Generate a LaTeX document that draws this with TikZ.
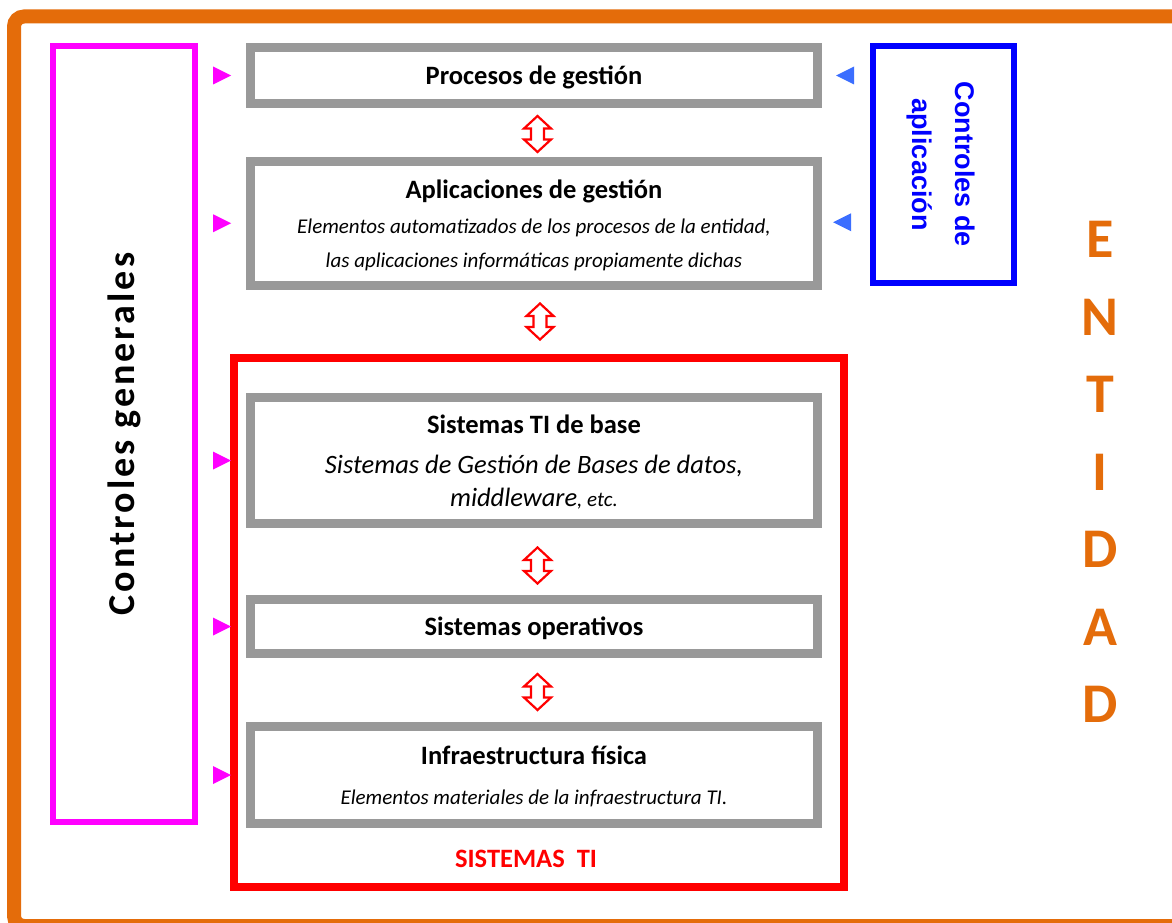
\documentclass[tikz,border=0pt]{standalone}
\usepackage{fontspec}
\setmainfont{Carlito}
\newfontfamily\bluefont{Liberation Sans}
\newfontfamily\spacedfont{Carlito}[LetterSpace=8]
\usetikzlibrary{calc}
\definecolor{orangeE}{RGB}{228,108,10}
\definecolor{grayB}{RGB}{153,153,153}
\definecolor{triblue}{RGB}{59,110,255}
\definecolor{magentaC}{RGB}{255,0,255}
\begin{document}
\begin{tikzpicture}[x=1pt,y=-1pt,
  graybox/.style={draw=grayB, line width=9pt, fill=white, minimum width=567pt,
    inner sep=0pt, outer sep=0pt, align=center, text depth=0pt},
  titlefont/.style={font=\fontsize{26.5}{34}\selectfont\bfseries},
  rtri/.pic={\fill[magentaC] (-9,-9) -- (9,0) -- (-9,9) -- cycle;},
  ltri/.pic={\fill[triblue] (9,-9) -- (-9,0) -- (9,9) -- cycle;},
  dblarrow/.pic={\draw[red, line width=2.2pt, fill=white, line join=miter]
     (0,-18) -- (13.5,-5.5) -- (6.5,-5.5) -- (6.5,5.5) -- (13.5,5.5) -- (0,18)
     -- (-13.5,5.5) -- (-6.5,5.5) -- (-6.5,-5.5) -- (-13.5,-5.5) -- cycle;}
]
\useasboundingbox (0,0) rectangle (1172,923);
\clip (0,0) rectangle (1172,923);
\fill[white] (0,0) rectangle (1172,923);
% entity frame
\draw[orangeE, line width=14pt, rounded corners=10pt] (14,16.5) rectangle (1190,926);
\node[text=orangeE, font=\fontsize{56}{77.5}\selectfont\bfseries, align=center, inner sep=0pt]
  (ent) at (1100,472) {E\\N\\T\\I\\D\\A\\D};

% general controls
\node[draw=magentaC, line width=6pt, rotate=90, minimum width=776pt, minimum height=142pt,
  inner sep=0pt, outer sep=0pt, font=\spacedfont\bfseries\fontsize{38}{38}\selectfont]
  (cg) at (124,434) {Controles generales};

% application controls
\node[draw=blue, line width=6pt, rotate=-90, minimum width=237pt, minimum height=141pt,
  inner sep=0pt, outer sep=0pt, text=blue, align=center, text depth=-1pt,
  font=\bluefont\bfseries\fontsize{27}{43}\selectfont]
  (ca) at (943.5,164.5) {Controles de\\aplicación};

% IT systems
\node[draw=red, line width=8pt, minimum width=610pt, minimum height=529pt,
  inner sep=0pt, outer sep=0pt] (ti) at (539,622.5) {};
\node[text=red, font=\fontsize{26.5}{30}\selectfont\bfseries, inner sep=0pt]
  (tilabel) at (526,859) {SISTEMAS\ \ TI};

\node[graybox, minimum height=56pt, titlefont] (proc) at (534,75.5) {Procesos de gestión};
\node[graybox, minimum height=123.5pt, font=\fontsize{21}{34}\selectfont] (apl) at (534,223.25)
  {{\bfseries\fontsize{26.5}{34}\selectfont Aplicaciones de gestión}\\[1pt]
   {\itshape Elementos automatizados de los procesos de la entidad,}\\
   {\itshape las aplicaciones informáticas propiamente dichas}};
\node[graybox, minimum height=126pt, font=\fontsize{26.5}{33}\selectfont, text depth=-4.5pt]
  (base) at (534,460.5)
  {{\bfseries Sistemas TI de base}\\[7pt]
   {\itshape Sistemas de Gestión de Bases de datos,}\\
   {\itshape middleware}{\itshape\fontsize{21}{33}\selectfont, etc.}};
\node[graybox, minimum height=54pt, titlefont] (so) at (534,626.5) {Sistemas operativos};
\node[graybox, minimum height=97pt, font=\fontsize{21}{40}\selectfont] (inf) at (534,775)
  {{\bfseries\fontsize{26.5}{34}\selectfont Infraestructura física}\\
   {\itshape Elementos materiales de la infraestructura TI.}};

% double arrows
\path ($(proc.south)!0.5!(apl.north)+(3.5,1.5)$) pic {dblarrow};
\path ($(apl.south)!0.5!(ti.north)+(3.5,0)$) pic {dblarrow};
\path ($(base.south)!0.5!(so.north)+(3.5,4)$) pic {dblarrow};
\path ($(so.south)!0.5!(inf.north)+(3.5,2)$) pic {dblarrow};

% control markers
\foreach \n in {proc,apl,base,so,inf}
  \path ($(\n.west)+(-28.5,0)$) pic {rtri};
\path ($(proc.east)+(27.5,0)$) pic {ltri};
\path ($(apl.east)+(24.5,-1)$) pic {ltri};
\end{tikzpicture}
\end{document}
